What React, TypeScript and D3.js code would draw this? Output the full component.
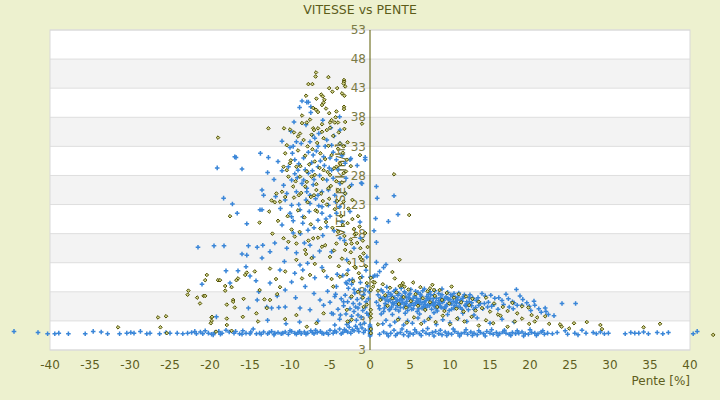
import * as d3 from "d3"

// Pente [%], vitesse [km/h]
const blueBottomLeft: [number, number][] = [
  [-44.5, 1.2], [-41.5, 1.0], [-40.3, 0.8], [-39.4, 0.8], [-38.9, 0.9], [-37.7, 0.8], [-35.6, 0.8], [-34.6, 1.2],
  [-33.6, 1.1], [-32.8, 0.8], [-31.3, 0.8], [-30.4, 0.9], [-29.9, 1.0], [-29.5, 0.9], [-28.7, 1.2], [-27.9, 0.8],
  [-27.5, 0.9], [-26.3, 0.8], [-25.5, 1.0], [-25.0, 0.9], [-24.1, 0.9], [-23.4, 0.8], [-22.8, 0.9], [-22.3, 1.0],
  [-21.7, 0.8], [-21.2, 1.1], [-20.6, 1.3], [-20.2, 0.9], [-19.8, 0.7], [-19.4, 1.0], [-18.9, 1.2], [-18.5, 0.9],
  [-18.0, 1.4], [-17.6, 1.1], [-17.0, 0.9], [-16.3, 0.8], [-15.9, 1.3], [-15.5, 0.9], [-15.0, 0.8], [-14.6, 1.6],
  [-14.2, 0.8], [-13.8, 0.9], [-13.3, 1.1], [-12.8, 0.8], [-12.3, 1.2], [-11.9, 0.9], [-11.5, 1.0], [-11.1, 0.8],
  [-10.6, 1.1], [-10.2, 0.7], [-9.8, 1.2], [-9.4, 0.9], [-9.0, 1.0], [-8.6, 0.8], [-8.2, 1.1], [-7.8, 0.9],
  [-7.4, 1.3], [-7.0, 0.8], [-6.6, 1.0], [-6.2, 1.2], [-5.8, 0.8], [-5.4, 1.0], [-5.0, 1.4], [-4.6, 0.9],
  [-4.2, 1.1], [-3.8, 1.6], [-3.4, 1.0], [-3.0, 1.3], [-2.6, 1.9], [-2.2, 1.5], [-1.8, 2.1], [-1.4, 1.2],
  [-1.0, 1.8], [-0.6, 1.4], [-21.9, 1.2], [-20.9, 0.8], [-19.6, 0.6], [-18.7, 0.7], [-16.8, 1.2], [-16.0, 0.7],
  [-14.9, 1.1], [-13.6, 0.7], [-12.6, 1.0], [-12.0, 0.6], [-10.9, 0.9], [-10.0, 1.3], [-9.2, 0.7], [-8.8, 1.2],
  [-8.0, 0.7], [-7.2, 1.0], [-6.8, 1.4], [-6.0, 0.9], [-5.2, 0.7], [-4.4, 1.3], [-3.6, 0.8], [-3.2, 1.5],
  [-2.8, 1.1], [-2.4, 0.9], [-2.0, 1.3], [-1.6, 1.7], [-1.2, 2.4], [-0.8, 1.0],
]

const blueBottomRight: [number, number][] = [
  [1.2, 0.7], [1.7, 1.1], [2.1, 0.8], [2.6, 0.9], [3.0, 1.4], [3.4, 0.8], [3.8, 1.0], [4.2, 0.6], [4.6, 1.2],
  [5.0, 0.9], [5.4, 0.7], [5.8, 1.1], [6.2, 0.8], [6.6, 1.3], [7.0, 0.9], [7.4, 0.7], [7.8, 1.0], [8.2, 1.2],
  [8.6, 0.8], [9.0, 0.6], [9.4, 1.1], [9.8, 0.9], [10.2, 0.7], [10.6, 1.2], [11.0, 0.9], [11.4, 0.8], [11.8, 1.0],
  [12.2, 0.7], [12.6, 1.1], [13.0, 0.9], [13.4, 0.6], [13.8, 1.0], [14.2, 0.8], [14.6, 1.2], [15.0, 0.9],
  [15.4, 0.7], [15.8, 1.0], [16.2, 0.8], [16.6, 1.1], [17.0, 0.9], [17.4, 0.7], [17.8, 1.0], [18.2, 0.8],
  [18.6, 0.9], [19.0, 1.1], [19.4, 0.8], [19.8, 0.7], [20.2, 1.0], [20.6, 0.9], [21.0, 0.8], [21.4, 1.1],
  [21.8, 0.7], [22.2, 0.9], [22.8, 0.8], [23.4, 1.0], [24.4, 1.3], [24.7, 0.7], [25.6, 0.9], [26.0, 0.6],
  [26.5, 1.4], [27.0, 0.9], [27.9, 1.0], [28.3, 0.8], [28.8, 1.1], [29.3, 0.8], [29.8, 0.9], [31.9, 0.8],
  [32.6, 1.0], [33.1, 0.9], [33.6, 0.9], [34.2, 1.1], [34.8, 0.8], [35.9, 1.0], [36.6, 0.8], [37.3, 1.0],
  [40.4, 0.8], [40.9, 1.2],
  [2.3, 0.4], [3.2, 0.5], [4.0, 1.6], [4.8, 0.4], [5.6, 1.5], [6.4, 0.5], [7.2, 1.7], [8.0, 0.4], [8.8, 1.4],
  [9.6, 0.5], [10.4, 1.6], [11.2, 0.4], [12.0, 1.5], [12.8, 0.5], [13.6, 1.3], [14.4, 0.4], [15.2, 1.5],
  [16.0, 0.5], [16.8, 1.4], [17.6, 0.5], [18.4, 1.3], [19.2, 0.4], [20.0, 1.5], [20.8, 0.5], [21.6, 1.3],
  [1.6, 2.5], [2.0, 3.1], [2.5, 2.2], [3.1, 2.8], [3.6, 3.4], [4.2, 2.3], [4.7, 3.0], [5.3, 2.6], [6.0, 3.5],
  [6.8, 2.9], [7.5, 3.6], [8.3, 2.4], [9.1, 3.2], [10.0, 2.7], [11.0, 3.4], [12.1, 2.9], [13.4, 3.5],
  [15.0, 2.6], [16.5, 3.3], [18.0, 2.8],
]

const blueRightCluster: [number, number][] = [
  [0.8, 6.2], [1.0, 7.5], [1.2, 5.1], [1.4, 8.3], [1.5, 6.8], [1.7, 4.6], [1.8, 7.1], [2.0, 5.7], [2.1, 8.8],
  [2.3, 6.4], [2.4, 4.9], [2.6, 7.6], [2.7, 5.4], [2.9, 6.9], [3.0, 8.1], [3.2, 5.0], [3.3, 6.3], [3.5, 7.4],
  [3.6, 4.7], [3.8, 5.9], [3.9, 8.6], [4.1, 6.7], [4.2, 5.3], [4.4, 7.8], [4.5, 6.0], [4.7, 4.8], [4.8, 7.0],
  [5.0, 5.6], [5.1, 8.4], [5.3, 6.5], [5.4, 5.1], [5.6, 7.3], [5.7, 6.1], [5.9, 4.6], [6.0, 7.9], [6.2, 5.8],
  [6.3, 6.8], [6.5, 5.2], [6.6, 8.2], [6.8, 6.3], [6.9, 4.9], [7.1, 7.2], [7.2, 5.7], [7.4, 6.6], [7.5, 8.0],
  [7.7, 5.0], [7.8, 6.2], [8.0, 7.4], [8.1, 5.5], [8.3, 6.9], [8.4, 4.7], [8.6, 7.7], [8.7, 6.0], [8.9, 5.3],
  [9.0, 8.5], [9.2, 6.5], [9.3, 5.1], [9.5, 7.1], [9.6, 5.8], [9.8, 6.7], [9.9, 4.8], [10.1, 7.5], [10.2, 5.9],
  [10.4, 6.4], [10.5, 5.2], [10.7, 7.0], [10.8, 6.1], [11.0, 5.4], [11.1, 7.8], [11.3, 6.6], [11.5, 5.0],
  [11.7, 7.2], [11.9, 5.7], [12.1, 6.3], [12.3, 4.9], [12.5, 7.5], [12.7, 5.6], [12.9, 6.8], [13.2, 5.3],
  [13.5, 7.0], [13.8, 6.0], [14.1, 5.1], [14.4, 7.3], [14.8, 6.2], [15.2, 5.5], [15.6, 6.9], [16.0, 5.0],
  [16.5, 6.5], [17.0, 7.6], [17.4, 5.4], [17.8, 6.3], [18.3, 8.4], [18.75, 7.3], [18.0, 6.1], [18.4, 5.7],
  [19.0, 5.7], [19.6, 6.1], [20.1, 4.8], [20.6, 5.7], [21.4, 4.5], [21.9, 5.2], [22.3, 4.1], [24.0, 6.0],
  [25.7, 6.0],
  [1.9, 6.0], [2.2, 7.2], [2.8, 6.1], [3.1, 7.0], [3.4, 5.6], [3.7, 6.6], [4.0, 7.3], [4.3, 5.9], [4.6, 6.4],
  [4.9, 7.5], [5.2, 6.0], [5.5, 5.7], [5.8, 6.9], [6.1, 6.4], [6.4, 7.3], [6.7, 5.5], [7.0, 6.5], [7.3, 7.6],
  [7.6, 5.9], [7.9, 6.8], [8.2, 6.2], [8.5, 5.8], [8.8, 7.0], [9.1, 6.2], [9.4, 5.4], [9.7, 6.9], [10.0, 6.0],
  [10.3, 7.2], [10.6, 5.6], [10.9, 6.6], [11.2, 6.0], [11.6, 6.9], [12.0, 5.5], [12.4, 6.3], [12.8, 7.0],
  [3.0, 6.0], [4.5, 5.5], [6.0, 6.0], [7.5, 6.9], [9.0, 6.4], [5.0, 6.8], [8.0, 5.6], [2.5, 6.6], [3.9, 6.9],
  [6.9, 5.8],
  [1.1, 5.6], [1.3, 7.0], [1.6, 8.0], [1.8, 5.2], [2.0, 6.6], [2.3, 7.9], [2.5, 5.0], [2.7, 7.3], [2.9, 5.9],
  [3.2, 8.4], [3.4, 6.6], [3.6, 7.7], [3.8, 5.3], [4.0, 6.2], [4.3, 8.0], [4.5, 7.1], [4.8, 5.5], [5.0, 7.7],
  [5.2, 5.0], [5.4, 6.9], [5.7, 8.1], [5.9, 6.4], [6.1, 5.1], [6.3, 7.6], [6.5, 6.1], [6.8, 8.5], [7.0, 5.3],
  [7.2, 6.9], [7.4, 5.6], [7.6, 7.5], [7.9, 6.0], [8.1, 8.2], [8.3, 5.1], [8.6, 6.5], [8.8, 5.5], [9.0, 7.5],
  [9.3, 6.8], [9.5, 5.5], [9.7, 7.9], [10.0, 6.7], [10.2, 5.0], [10.5, 7.7], [10.7, 6.3], [11.0, 7.1],
  [11.3, 5.3], [11.5, 6.4], [11.8, 7.5], [12.1, 5.9], [12.4, 7.0], [12.7, 6.1], [13.0, 5.0], [13.3, 6.5],
  [13.6, 5.7], [14.0, 7.7], [14.3, 6.0], [14.7, 5.4], [15.1, 7.4], [15.5, 5.8], [16.1, 7.0], [16.7, 5.8],
  [17.3, 6.8], [17.9, 5.1], [19.1, 6.7], [19.9, 5.5], [20.5, 6.4], [21.1, 5.1], [22.0, 4.6], [23.0, 3.9],
  [1.4, 4.2], [2.8, 4.1], [4.4, 4.3], [6.2, 4.2], [8.0, 4.4], [9.7, 4.1], [11.6, 4.3], [13.0, 4.0],
  [0.8, 26.1], [0.9, 24.1], [3.0, 24.5], [3.5, 21.3], [0.7, 20.6], [2.3, 20.1], [0.5, 18.5],
  [0.8, 16.5], [0.8, 13.1], [1.7, 12.2], [2.0, 12.7], [1.2, 11.5], [0.6, 10.8], [0.9, 10.8], [0.05, 10.5],
  [0.4, 10.6],
]

const blueNearAxis: [number, number][] = [
  [-3.3, 5.6], [-3.1, 7.4], [-3.0, 4.2], [-2.8, 6.3], [-2.7, 8.6], [-2.5, 5.1], [-2.4, 7.0], [-2.3, 3.8],
  [-2.1, 6.0], [-2.0, 4.6], [-1.9, 7.8], [-1.8, 5.4], [-1.6, 6.7], [-1.5, 4.0], [-1.4, 8.2], [-1.3, 5.9],
  [-1.1, 3.6], [-1.0, 6.9], [-0.9, 4.8], [-0.8, 7.5], [-0.6, 5.3], [-0.5, 6.3], [-0.4, 4.3], [-0.3, 9.0],
  [-2.9, 9.4], [-3.6, 6.8], [-4.0, 5.0], [-4.3, 7.6], [-3.8, 3.3], [-2.6, 2.8], [-1.7, 3.1], [-0.7, 2.6],
  [-4.6, 4.2], [-5.0, 6.2], [-2.2, 10.1], [-1.2, 9.6], [-3.4, 10.8], [-0.5, 11.7], [-0.6, 8.3], [-2.6, 10.0],
  [-2.3, 9.3], [-1.0, 10.6], [-0.4, 14.0], [-1.5, 5.2], [-0.2, 4.0], [-0.2, 6.8], [-0.1, 8.0], [-2.0, 8.4],
  [0, 0.4], [0, 0.8], [0, 1.2], [0, 1.6], [0, 2.0], [0, 2.3], [0.05, 0.6], [0.05, 1.0], [0.05, 1.4], [0.05, 1.8],
]

const blueLeftCloud: [number, number][] = [
  [-13.5, 22.1], [-11.0, 19.5], [-10.0, 21.5], [-9.8, 20.9], [-8.4, 19.8], [-7.75, 18.6], [-6.5, 20.3],
  [-5.4, 19.2], [-3.75, 17.2], [-13.4, 16.0], [-11.9, 16.4], [-12.5, 14.9], [-10.4, 15.5], [-9.6, 18.1],
  [-9.2, 14.7], [-7.1, 14.0], [-7.5, 16.0], [-4.8, 14.9], [-2.9, 13.5], [-2.75, 11.7], [-13.5, 13.8],
  [-11.25, 11.75], [-8.75, 12.6], [-8.4, 11.75], [-6.9, 10.4], [-5.4, 10.6], [-12.5, 9.5], [-9.8, 9.7],
  [-10.6, 8.3], [-8.1, 8.9], [-4.2, 8.9], [-6.25, 6.6], [-4.4, 7.2], [-12.3, 5.2], [-10.6, 5.4], [-8.75, 5.2],
  [-7.5, 4.9], [-5.8, 5.7], [-4.8, 4.3], [-3.3, 6.3], [-12.9, 5.4],
  [-21.5, 15.65], [-19.5, 15.9], [-18.25, 15.9], [-17.2, 23.1], [-16.6, 21.5], [-15.4, 19.7], [-13.75, 22.1],
  [-16.0, 14.5], [-15.4, 14.3], [-15.2, 15.9], [-14.1, 15.65], [-18.0, 11.6], [-16.5, 11.6], [-15.5, 12.3],
  [-15.0, 10.7], [-21.0, 9.3], [-17.5, 9.5], [-14.25, 9.9], [-19.2, 3.7], [-15.2, 5.2], [-14.1, 6.6],
  [-11.4, 5.3],
  [-18.3, 24.1], [-16.75, 31.1], [-16.0, 29.1], [-13.7, 31.8], [-12.7, 31.1], [-12.8, 28.5], [-13.5, 25.5],
  [-13.3, 24.6], [-11.0, 33.9], [-9.5, 37.2], [-8.8, 39.7], [-7.9, 40.6], [-7.7, 40.6], [-7.4, 39.8],
  [-8.5, 40.8], [-3.8, 38.1], [-4.5, 34.8], [-3.75, 33.5], [-2.4, 30.9], [-0.6, 31.1], [-0.6, 30.7],
  [-1.6, 29.7], [-1.1, 26.7], [-19.1, 29.3], [-16.9, 31.2],
  [-7.4, 38.8], [-9.6, 33.0], [-9.2, 33.8], [-7.5, 33.8], [-6.5, 33.0], [-5.4, 34.1], [-4.8, 33.2],
  [-3.75, 35.8], [-9.4, 30.7], [-8.3, 31.0], [-7.1, 31.5], [-5.8, 31.2], [-4.2, 30.7], [-3.1, 30.1],
  [-9.0, 28.9], [-7.7, 28.4], [-6.5, 29.5], [-4.8, 28.9], [-2.5, 30.7], [-9.8, 27.2], [-8.5, 26.6],
  [-7.1, 26.4], [-5.4, 27.2], [-3.75, 26.6], [-2.3, 26.4], [-1.0, 26.6], [-10.4, 24.9], [-9.2, 25.2],
  [-7.5, 24.6], [-6.0, 25.2], [-4.4, 24.6], [-3.1, 24.9], [-7.5, 23.2], [-6.5, 24.6], [-6.0, 21.5],
  [-5.2, 22.9], [-4.2, 21.5], [-3.5, 20.0], [-1.25, 20.0], [-2.5, 21.8], [-8.75, 22.1], [-8.4, 20.9],
  [-9.8, 22.9], [-10.6, 23.8], [-7.9, 25.2],
  [-10.2, 29.5], [-9.7, 31.8], [-9.1, 27.6], [-8.6, 33.5], [-8.1, 29.0], [-7.9, 25.8], [-7.3, 30.2],
  [-7.0, 27.3], [-6.7, 32.2], [-6.3, 28.0], [-6.0, 22.6], [-5.7, 29.7], [-5.2, 25.5], [-5.0, 31.0],
  [-4.6, 27.5], [-4.3, 23.5], [-8.9, 23.0], [-7.6, 21.8], [-6.8, 24.0], [-5.5, 20.5], [-10.8, 26.3],
  [-11.5, 30.4], [-11.8, 24.4], [-9.9, 35.6], [-8.0, 36.7], [-6.4, 35.2], [-5.9, 37.5], [-4.9, 36.2],
  [-7.2, 34.9],
  [-10.0, 32.8], [-9.4, 28.3], [-8.9, 30.0], [-8.3, 27.2], [-7.7, 32.0], [-7.2, 28.8], [-6.9, 34.4],
  [-6.2, 30.5], [-5.6, 33.0], [-5.1, 29.3], [-4.6, 32.0], [-4.0, 29.0], [-3.5, 31.4], [-3.0, 27.5],
  [-8.0, 23.8], [-6.4, 22.8], [-5.0, 21.0], [-3.8, 22.6], [-9.6, 20.2], [-11.2, 22.3], [-12.0, 27.3],
  [-11.0, 28.8], [-8.7, 18.0], [-7.0, 19.0], [-5.9, 17.7], [-4.5, 18.5], [-3.2, 16.8], [-2.0, 15.5],
  [-1.2, 17.2], [-6.3, 15.0], [-8.2, 16.4], [-10.7, 13.2], [-9.4, 11.2], [-7.8, 12.9], [-6.0, 12.2],
  [-4.1, 11.0], [-3.0, 9.6], [-7.0, 7.7], [-9.3, 7.0], [-11.6, 7.3], [-13.9, 8.0], [-5.3, 8.1],
  [-3.7, 4.0], [-6.5, 3.0], [-8.8, 2.8], [-10.5, 2.5], [-12.8, 3.1], [-4.4, 2.3], [-2.9, 2.4],
]

const oliveLeftCloud: [number, number][] = [
  [-6.75, 45.7], [-6.8, 45.0], [-5.2, 44.9], [-7.7, 43.7], [-7.2, 43.7], [-6.1, 41.9], [-5.9, 41.6],
  [-5.7, 41.0], [-5.1, 43.0], [-4.7, 42.4], [-4.1, 43.0], [-3.5, 42.1], [-3.25, 44.4], [-3.25, 44.1],
  [-3.3, 43.8], [-3.1, 43.3], [-3.2, 41.7], [-8.0, 41.7], [-6.7, 41.2], [-7.1, 39.6], [-6.75, 39.3],
  [-5.8, 40.5], [-6.0, 40.1], [-4.2, 39.0], [-3.25, 39.8], [-3.25, 39.4], [-5.1, 38.7], [-4.8, 37.5],
  [-5.0, 37.1], [-4.4, 37.1], [-4.0, 37.1], [-3.1, 37.2], [-1.0, 36.9], [-7.9, 37.1], [-7.1, 36.1],
  [-6.5, 36.1], [-6.0, 35.5], [-8.5, 37.0], [-8.75, 35.2], [-7.3, 35.0], [-12.7, 36.1], [-10.75, 36.1],
  [-10.0, 35.9], [-9.0, 34.7], [-5.4, 35.8], [-3.75, 33.5], [-3.3, 33.0], [-2.9, 30.7], [-10.6, 31.8],
  [-10.0, 30.1], [-10.4, 28.9], [-10.8, 29.5], [-10.2, 27.8], [-9.2, 29.5], [-8.75, 27.8], [-7.9, 28.7],
  [-6.9, 28.1], [-5.8, 28.9], [-5.0, 28.1], [-4.2, 29.5], [-3.3, 28.4], [-9.6, 26.1], [-8.1, 26.1],
  [-6.7, 25.5], [-5.2, 25.8], [-4.0, 25.5], [-3.1, 24.9], [-11.0, 25.2], [-1.25, 31.5], [-19.0, 34.5],
  [-12.3, 23.7], [-11.7, 24.9], [-10.6, 24.3], [-11.25, 23.5],
  [-10.4, 33.2], [-9.9, 30.6], [-9.5, 35.4], [-9.3, 27.0], [-9.0, 32.3], [-8.7, 29.6], [-8.5, 38.3],
  [-8.3, 34.1], [-8.1, 31.4], [-7.9, 26.9], [-7.8, 33.0], [-7.6, 29.9], [-7.5, 37.6], [-7.3, 27.8],
  [-7.2, 32.5], [-7.0, 35.8], [-6.9, 30.4], [-6.7, 26.5], [-6.6, 33.6], [-6.5, 38.9], [-6.3, 29.3],
  [-6.2, 31.8], [-6.0, 36.8], [-5.9, 27.4], [-5.8, 34.4], [-5.6, 30.8], [-5.5, 39.5], [-5.3, 28.6],
  [-5.2, 33.1], [-5.0, 36.2], [-4.9, 26.2], [-4.8, 31.5], [-4.6, 34.8], [-4.5, 29.2], [-4.3, 38.0],
  [-4.2, 27.0], [-4.0, 32.6], [-3.9, 35.4], [-3.7, 30.0], [-3.5, 26.8], [-3.4, 31.9], [-3.2, 36.0],
  [-3.0, 28.7], [-2.8, 33.7], [-2.6, 26.0], [-2.4, 29.6], [-2.2, 23.8], [-7.4, 24.3], [-6.1, 24.9],
  [-8.9, 24.6], [-5.4, 23.0], [-4.1, 23.6], [-6.8, 22.0],
  [-9.5, 24.2], [-9.0, 22.0], [-8.6, 25.0], [-8.2, 20.8], [-7.8, 23.4], [-7.4, 19.6], [-7.0, 24.6],
  [-6.6, 21.8], [-6.2, 18.9], [-5.9, 23.6], [-5.5, 20.0], [-5.1, 24.0], [-4.7, 19.0], [-4.4, 22.2],
  [-4.0, 18.3], [-3.6, 21.0], [-3.2, 17.6], [-2.8, 19.8], [-2.4, 17.0], [-2.0, 18.8], [-1.6, 16.4],
  [-1.2, 15.5], [-0.8, 14.6], [-8.8, 18.3], [-7.7, 16.8], [-6.5, 17.3], [-5.6, 16.0], [-4.5, 15.1],
  [-3.5, 13.7], [-2.6, 13.0], [-1.8, 12.1], [-1.4, 11.2], [-10.3, 21.0], [-9.8, 18.7], [-10.8, 17.2],
  [-11.5, 20.2], [-12.2, 18.0], [-9.2, 16.3], [-8.0, 14.5], [-6.9, 12.8], [-5.8, 11.6], [-4.8, 10.2],
  [-3.9, 12.4], [-2.9, 11.0], [-2.1, 9.8], [-1.5, 8.0], [-0.9, 7.0], [-0.4, 5.8],
  [-2.2, 20.5], [-1.9, 17.9], [-1.3, 19.2], [-0.9, 16.8], [-0.6, 18.1], [-0.3, 15.7], [-1.1, 13.6],
  [-0.5, 12.4], [-2.4, 14.8], [-3.0, 16.2], [-3.4, 19.5], [-2.7, 22.3], [-1.5, 21.0], [-3.3, 23.5],
]

const oliveLowerLeft: [number, number][] = [
  [-17.5, 21.0], [-13.8, 19.9], [-12.6, 21.8], [-11.9, 23.4], [-22.7, 8.2], [-22.8, 7.5], [-21.6, 7.0],
  [-20.8, 7.3], [-20.6, 7.3], [-20.6, 10.0], [-20.4, 10.9], [-21.25, 6.0], [-19.0, 10.0], [-18.75, 10.0],
  [-18.1, 9.0], [-18.1, 8.2], [-17.3, 8.8], [-17.1, 6.6], [-15.8, 6.8], [-16.5, 10.3], [-16.7, 10.0],
  [-15.6, 10.9], [-15.4, 11.3], [-14.4, 11.5], [-13.8, 8.3], [-13.2, 6.7], [-12.5, 12.0], [-11.75, 10.2],
  [-11.25, 8.8], [-11.6, 7.6], [-12.9, 5.2], [-14.2, 4.3], [-15.9, 3.7], [-17.9, 3.4], [-19.8, 3.6],
  [-19.8, 3.0], [-17.9, 2.3], [-14.0, 2.9], [-10.6, 3.3], [-9.2, 4.0], [-7.9, 2.0], [-6.7, 2.6],
  [-5.8, 4.3], [-12.5, 6.6], [-10.6, 11.5], [-8.5, 10.3], [-7.5, 10.9], [-9.2, 13.5], [-8.1, 15.2],
  [-7.3, 13.8], [-10.2, 16.6], [-9.4, 17.5], [-7.1, 17.2], [-6.0, 15.75], [-5.0, 14.0], [-4.2, 16.3],
  [-3.1, 15.2], [-2.3, 16.3], [-1.7, 18.0], [-1.25, 14.0], [-1.9, 12.3], [-4.6, 8.9], [-3.75, 10.6],
  [-2.3, 7.2], [-0.8, 5.4], [-0.4, 9.5], [-2.9, 4.9], [-31.5, 1.9], [-26.5, 3.6], [-25.5, 3.8],
  [-26.2, 1.9], [-17.9, 5.8], [-16.9, 5.3], [-17.1, 6.3], [-19.75, 3.7], [-19.9, 2.6], [-19.25, 1.15],
  [-17.3, 1.3], [-25.4, 0.9], [-1.25, 10.4], [-2.8, 2.9], [-2.3, 3.2],
  [0.1, 10.4], [0.1, 8.3], [0.1, 4.9], [0.1, 4.2], [0.1, 3.55], [0.1, 1.6], [0.1, 0.9], [0.4, 9.7],
]

const oliveRight: [number, number][] = [
  [1.0, 8.2], [1.3, 6.6], [1.6, 9.3], [1.9, 7.4], [2.2, 5.6], [2.5, 8.7], [2.8, 6.9], [3.1, 10.3], [3.3, 7.9],
  [3.6, 5.9], [3.9, 9.1], [4.2, 7.1], [4.5, 5.3], [4.8, 8.4], [5.1, 6.4], [5.4, 9.6], [5.7, 7.6], [6.0, 5.6],
  [6.3, 8.8], [6.6, 6.9], [6.9, 4.9], [7.2, 8.1], [7.5, 6.2], [7.8, 9.2], [8.1, 7.3], [8.4, 5.4], [8.7, 8.3],
  [9.0, 6.6], [9.3, 4.7], [9.6, 7.8], [9.9, 6.0], [10.2, 8.9], [10.5, 7.0], [10.8, 5.1], [11.1, 7.6],
  [11.4, 6.2], [11.7, 4.6], [12.0, 7.2], [12.4, 5.7], [12.8, 6.8], [13.2, 4.8], [13.6, 6.3], [14.0, 5.2],
  [14.5, 7.0], [15.0, 4.6], [15.5, 6.0], [16.0, 4.1], [16.6, 5.4], [17.2, 4.7], [17.8, 6.1], [18.4, 4.3],
  [19.0, 5.5], [19.8, 5.3], [20.2, 4.0], [20.9, 3.6],
  [3.5, 3.2], [4.6, 2.7], [5.5, 3.6], [6.4, 2.5], [7.3, 3.3], [8.2, 2.8], [9.1, 3.9], [10.0, 2.4],
  [10.9, 3.4], [11.8, 2.9], [12.7, 3.7], [13.6, 2.2], [14.5, 3.1], [15.4, 2.6], [16.3, 3.9], [17.2, 2.0],
  [18.1, 2.9], [19.0, 3.4], [19.9, 2.5], [20.6, 2.9], [21.9, 3.8], [22.4, 2.5], [23.75, 2.4], [23.96, 2.0],
  [24.9, 1.7], [25.5, 2.6], [27.1, 2.8], [28.8, 2.3], [29.0, 1.6], [34.2, 1.9], [36.25, 2.5], [42.9, 0.6],
  [4.1, 9.5], [4.3, 8.9], [3.7, 9.0], [0.6, 9.6], [7.5, 8.6], [8.0, 8.3], [0.4, 8.9], [1.0, 2.4],
  [3.0, 28.2], [4.9, 21.2], [3.7, 13.5], [2.8, 11.4],
]

const blueSeries = [...blueBottomLeft, ...blueBottomRight, ...blueRightCluster, ...blueNearAxis, ...blueLeftCloud]
const oliveSeries = [...oliveLeftCloud, ...oliveLowerLeft, ...oliveRight]

const xTicks = d3.range(-40, 41, 5)
const yTicks = d3.range(-2, 54, 5)
const yTickLabels = ["3", "3", "8", "13", "18", "23", "28", "33", "38", "43", "48", "53"]

const W = 720
const H = 400
const margin = { top: 30, right: 30, bottom: 50, left: 50 }
const FONT = "DejaVu Sans, Verdana, sans-serif"

export default function App() {
  const x = d3.scaleLinear().domain([-40, 40]).range([margin.left, W - margin.right])
  const y = d3.scaleLinear().domain([-2, 53]).range([H - margin.bottom, margin.top])
  const x0 = x(0)
  const plotW = W - margin.left - margin.right
  const plotH = H - margin.top - margin.bottom

  return (
    <svg width={W} height={H} style={{ position: "absolute", left: 0, top: 0 }} fontFamily={FONT}>
      <rect width={W} height={H} fill="#edf1cf" />
      <rect x={margin.left} y={margin.top} width={plotW} height={plotH} fill="#ffffff" />

      {/* bandes alternées */}
      {yTicks.slice(0, -1).map((t, i) =>
        i % 2 === 1 ? (
          <rect key={t} x={margin.left} y={y(t + 5)} width={plotW} height={y(t) - y(t + 5)} fill="#f3f3f3" />
        ) : null,
      )}
      {yTicks.map((t) => (
        <line key={t} x1={margin.left} x2={W - margin.right} y1={y(t)} y2={y(t)} stroke="#dedede" strokeWidth={1} />
      ))}
      <rect x={margin.left} y={margin.top} width={plotW} height={plotH} fill="none" stroke="#d9d9d9" />

      <text x={W / 2} y={14} textAnchor="middle" fontSize={12.5} fill="#5c5c1a">VITESSE vs PENTE</text>

      <text transform={`translate(${x0 - 25},${(margin.top + H - margin.bottom) / 2}) rotate(-90)`} textAnchor="middle" fontSize={12} fill="#6b6b2a">VITESSE [km/h]</text>

      {/* axe Y au zéro */}
      <line x1={x0} x2={x0} y1={margin.top} y2={H - margin.bottom} stroke="#5a5a00" strokeWidth={1} />
      {yTicks.map((t, i) => (
        <text key={t} x={x0 - 4} y={y(t)} dy="0.35em" textAnchor="end" fontSize={12} fill="#7a7a45">{yTickLabels[i]}</text>
      ))}

      {xTicks.map((t) => (
        <text key={t} x={x(t)} y={H - margin.bottom + 19} textAnchor="middle" fontSize={12} fill="#5e5e1e">{t}</text>
      ))}
      <text x={W - margin.right} y={H - 15} textAnchor="end" fontSize={12} fill="#5e5e1e">Pente [%]</text>

      {/* points */}
      <g stroke="#3a86d8" strokeWidth={1.5}>
        {blueSeries.map(([px, py], i) => {
          const cx = x(px)
          const cy = y(py)
          return <path key={i} d={`M${cx - 2.3},${cy}H${cx + 2.3}M${cx},${cy - 2.3}V${cy + 2.3}`} />
        })}
      </g>
      <g stroke="#4f4f00" strokeWidth={1} fill="#cfd28a">
        {oliveSeries.map(([px, py], i) => {
          const cx = x(px)
          const cy = y(py)
          return <path key={i} d={`M${cx},${cy - 1.8}L${cx + 1.8},${cy}L${cx},${cy + 1.8}L${cx - 1.8},${cy}Z`} />
        })}
      </g>
    </svg>
  )
}
